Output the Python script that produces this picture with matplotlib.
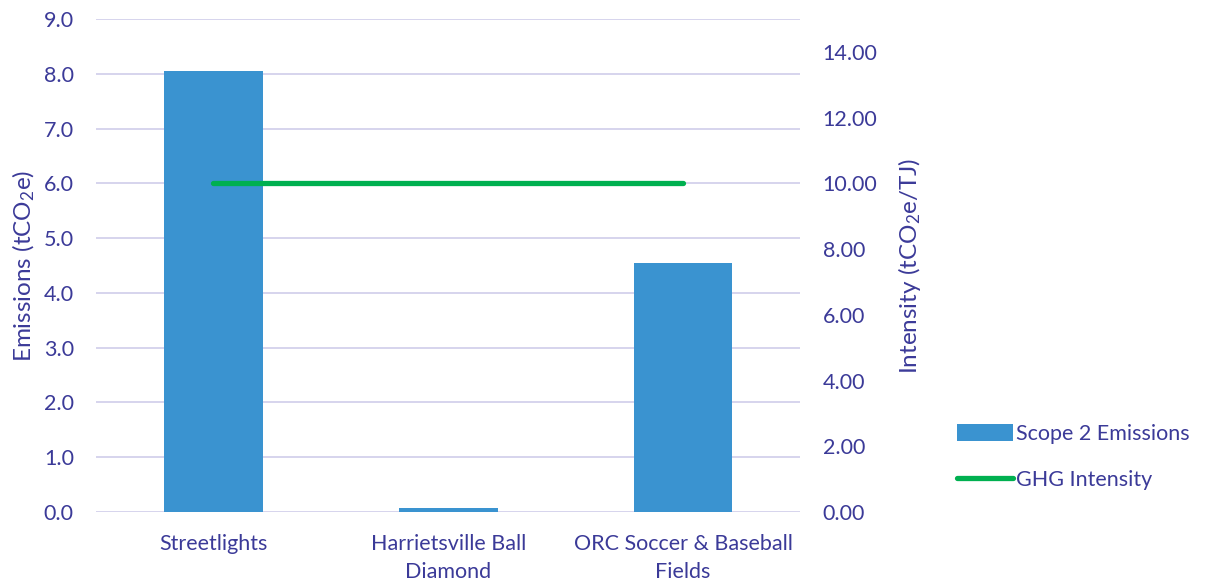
import matplotlib.pyplot as plt
import numpy as np

plt.rcParams['font.family'] = ['Lato', 'DejaVu Sans']
plt.rcParams['mathtext.fontset'] = 'custom'
plt.rcParams['mathtext.rm'] = 'Lato'
plt.rcParams['mathtext.it'] = 'Lato:italic'

categories = ["Streetlights", "Harrietsville Ball\nDiamond", "ORC Soccer & Baseball\nFields"]
emissions = [8.05, 0.07, 4.55]
intensity = [10.0, 10.0, 10.0]

txt = '#3b3a98'
grid = '#d0cdea'
bar_c = '#3a93d0'
line_c = '#00b050'

fig = plt.figure(figsize=(12.05, 5.84), dpi=100)
ax = fig.add_axes([0.0797, 0.1233, 0.5845, 0.8442])
ax2 = ax.twinx()

x = np.arange(len(categories))
bars = ax.bar(x, emissions, width=0.42, color=bar_c, zorder=3, label='Scope 2 Emissions')
ln, = ax2.plot(x, intensity, color=line_c, lw=3.8, solid_capstyle='round', zorder=4, label='GHG Intensity')

ax.set_xlim(-0.5, 2.5)
ax.set_ylim(0, 9)
ax.set_yticks(np.arange(0, 9.1, 1.0))
ax.set_yticklabels([f"{v:.1f}" for v in np.arange(0, 9.1, 1.0)])
ax2.set_ylim(0, 15)
ax2.set_yticks(np.arange(0, 14.1, 2.0))
ax2.set_yticklabels([f"{v:.2f}" for v in np.arange(0, 14.1, 2.0)])

ax.set_xticks(x)
ax.set_xticklabels(categories, linespacing=1.5)
ax.grid(axis='y', color=grid, lw=1.2, zorder=0)
ax.set_axisbelow(True)

for a in (ax, ax2):
    for s in a.spines.values():
        s.set_visible(False)
    a.tick_params(length=0, labelsize=15.5, colors=txt)
ax.tick_params(axis='y', pad=16)
ax2.tick_params(axis='y', pad=16)
ax.tick_params(axis='x', pad=16)

ax.set_ylabel(r'Emissions (tCO$_2$e)', color=txt, fontsize=17.5, labelpad=5)
ax2.set_ylabel(r'Intensity (tCO$_2$e/TJ)', color=txt, fontsize=17.5, labelpad=13)

leg = fig.legend([bars, ln], ['Scope 2 Emissions', 'GHG Intensity'],
                 loc='center left', bbox_to_anchor=(0.787, 0.218), frameon=False,
                 borderaxespad=0, fontsize=15.5, handlelength=2.6, handleheight=0.85,
                 handletextpad=0.15, labelspacing=1.2, labelcolor=txt)

fig.savefig('out.png', dpi=100)
